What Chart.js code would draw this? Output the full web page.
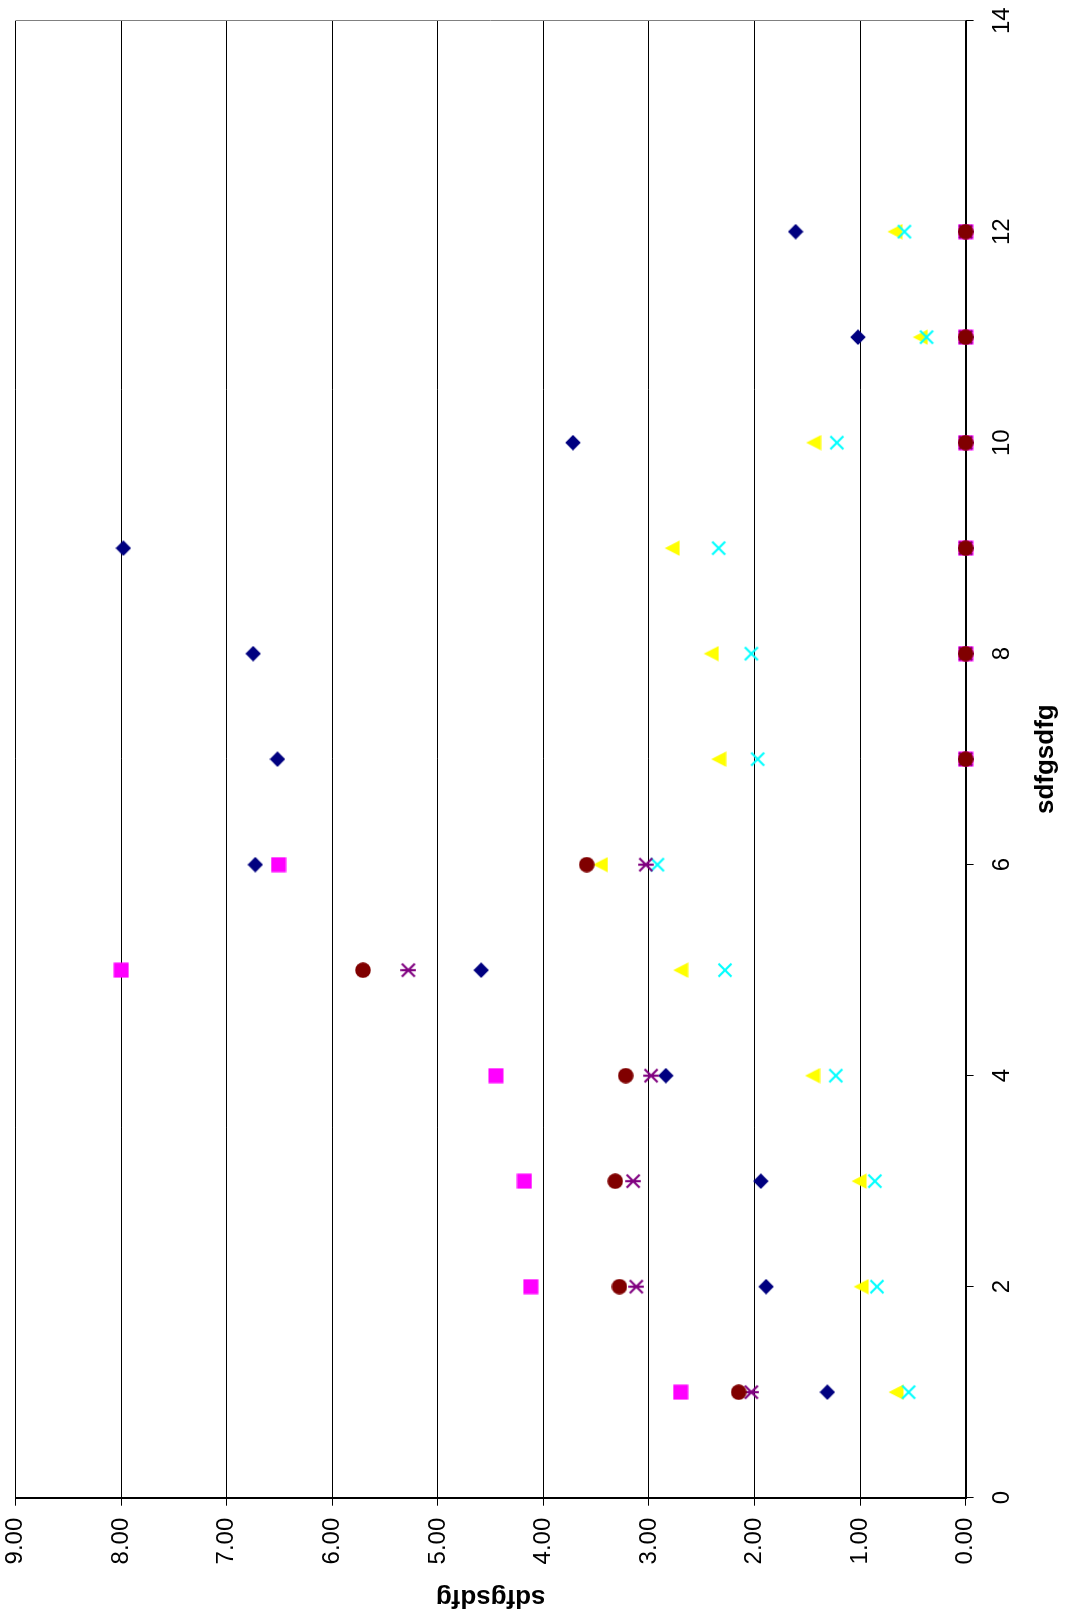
<!DOCTYPE html>
<html>
<head>
<meta charset="utf-8">
<script src="https://cdn.jsdelivr.net/npm/chart.js@4/dist/chart.umd.min.js"></script>
<style>
  html, body { margin: 0; padding: 0; background: #ffffff; overflow: hidden; }
  body { width: 1070px; height: 1616px; position: relative; }
  /* the chart is laid out landscape and turned a quarter turn counter-clockwise */
  #wrap {
    position: absolute; left: 0; top: 0;
    width: 1616px; height: 1070px;
    transform-origin: 0 0;
    transform: translateY(1616px) rotate(-90deg);
  }
  #chart { display: block; }
</style>
</head>
<body>
<div id="wrap"><canvas id="chart" width="1616" height="1070"></canvas></div>
<script>
// x positions shared by every series
const categories = [1, 2, 3, 4, 5, 6, 7, 8, 9, 10, 11, 12];

// series values (one per category)
const seriesDiamond  = [1.31, 1.89, 1.94, 2.84, 4.59, 6.73, 6.52, 6.75, 7.98, 3.72, 1.02, 1.61];
const seriesSquare   = [2.70, 4.12, 4.18, 4.45, 8.00, 6.51, 0, 0, 0, 0, 0, 0];
const seriesTriangle = [0.66, 0.99, 1.01, 1.45, 2.70, 3.46, 2.34, 2.41, 2.78, 1.44, 0.43, 0.67];
const seriesCross    = [0.54, 0.84, 0.86, 1.23, 2.28, 2.92, 1.97, 2.03, 2.34, 1.22, 0.37, 0.58];
const seriesStar     = [2.03, 3.12, 3.15, 2.98, 5.28, 3.03, 0, 0, 0, 0, 0, 0];
const seriesCircle   = [2.15, 3.28, 3.32, 3.22, 5.71, 3.59, 0, 0, 0, 0, 0, 0];

// axis settings
const xAxisTitle = 'sdfgsdfg';
const yAxisTitle = 'sdfgsdfg';
const xMin = 0, xMax = 14, xStep = 2;
const yMin = 0, yMax = 9, yStep = 1;

// small marker images
function makeMarker(kind, color) {
  const s = 16;
  const c = document.createElement('canvas');
  c.width = s; c.height = s;
  const g = c.getContext('2d');
  g.fillStyle = color;
  g.strokeStyle = color;
  const m = s / 2;
  if (kind === 'diamond') {
    g.beginPath();
    g.moveTo(m, 0.2); g.lineTo(s - 0.2, m); g.lineTo(m, s - 0.2); g.lineTo(0.2, m);
    g.closePath(); g.fill();
  } else if (kind === 'square') {
    g.fillRect(0.5, 0.5, s - 1, s - 1);
  } else if (kind === 'triangle') {
    g.beginPath();
    g.moveTo(m, 0.5); g.lineTo(s - 0.3, s - 0.5); g.lineTo(0.3, s - 0.5);
    g.closePath(); g.fill();
  } else if (kind === 'cross') {
    g.lineWidth = 2.2;
    g.beginPath();
    g.moveTo(1.5, 1.5); g.lineTo(s - 1.5, s - 1.5);
    g.moveTo(s - 1.5, 1.5); g.lineTo(1.5, s - 1.5);
    g.stroke();
  } else if (kind === 'star') {
    g.lineWidth = 2.2;
    g.beginPath();
    g.moveTo(1.5, 1.5); g.lineTo(s - 1.5, s - 1.5);
    g.moveTo(s - 1.5, 1.5); g.lineTo(1.5, s - 1.5);
    g.moveTo(m, 0.3); g.lineTo(m, s - 0.3);
    g.stroke();
  } else if (kind === 'circle') {
    g.beginPath();
    g.arc(m, m, 7.8, 0, Math.PI * 2);
    g.fill();
  }
  return c;
}

function points(values) {
  return categories.map((x, i) => ({ x: x, y: values[i] }));
}

// later series are painted over earlier ones
function series(label, values, kind, color, index) {
  return {
    label: label,
    data: points(values),
    showLine: false,
    pointStyle: makeMarker(kind, color),
    pointRadius: 8,
    pointHoverRadius: 8,
    backgroundColor: color,
    borderColor: color,
    borderWidth: 0,
    clip: false,
    order: 10 - index
  };
}

// grey edge of the plot area opposite the value axis
const plotEdge = {
  id: 'plotEdge',
  beforeDatasetsDraw(chart) {
    const a = chart.chartArea;
    const ctx = chart.ctx;
    ctx.save();
    ctx.strokeStyle = '#808080';
    ctx.lineWidth = 1;
    ctx.beginPath();
    ctx.moveTo(Math.round(a.right) + 0.5, a.top);
    ctx.lineTo(Math.round(a.right) + 0.5, a.bottom);
    ctx.stroke();
    ctx.restore();
  }
};

function noEdgePadding(scale) {
  scale.paddingTop = 0;
  scale.paddingBottom = 0;
  scale.paddingLeft = 0;
  scale.paddingRight = 0;
}

const tickFont = { family: "'Liberation Sans', Arial, Helvetica, sans-serif", size: 24 };
const titleFont = { family: "'Liberation Sans', Arial, Helvetica, sans-serif", size: 26, weight: 'bold' };

new Chart(document.getElementById('chart'), {
  type: 'scatter',
  data: {
    datasets: [
      series('Series1', seriesDiamond, 'diamond', '#000080', 1),
      series('Series2', seriesSquare, 'square', '#FF00FF', 2),
      series('Series3', seriesTriangle, 'triangle', '#FFFF00', 3),
      series('Series4', seriesCross, 'cross', '#00FFFF', 4),
      series('Series5', seriesStar, 'star', '#800080', 5),
      series('Series6', seriesCircle, 'circle', '#800000', 6)
    ]
  },
  options: {
    responsive: false,
    animation: false,
    devicePixelRatio: 1,
    layout: { padding: { top: 15.7, right: 20.7, left: 0, bottom: 0 } },
    plugins: {
      legend: { display: false },
      tooltip: { enabled: false }
    },
    scales: {
      x: {
        type: 'linear',
        position: 'bottom',
        min: xMin, max: xMax,
        afterFit(scale) { scale.height = 104.4; noEdgePadding(scale); },
        ticks: {
          stepSize: xStep,
          color: '#000000',
          font: tickFont,
          padding: 14,
          maxRotation: 0,
          callback: (v) => String(v)
        },
        grid: {
          drawOnChartArea: false,
          drawTicks: true,
          tickLength: 8,
          tickColor: '#000000',
          tickWidth: 1
        },
        border: { display: true, color: '#000000', width: 2 },
        title: {
          display: true,
          text: xAxisTitle,
          color: '#000000',
          font: titleFont,
          padding: { top: 0, bottom: 9 }
        }
      },
      y: {
        type: 'linear',
        position: 'left',
        min: yMin, max: yMax,
        afterFit(scale) { scale.width = 118.3; noEdgePadding(scale); },
        ticks: {
          stepSize: yStep,
          color: '#000000',
          font: tickFont,
          padding: 12,
          callback: (v) => Number(v).toFixed(2)
        },
        grid: {
          color: '#000000',
          lineWidth: 1,
          drawTicks: true,
          tickLength: 8,
          tickColor: '#000000'
        },
        border: { display: true, color: '#000000', width: 2 },
        title: {
          display: true,
          text: yAxisTitle,
          color: '#000000',
          font: titleFont,
          padding: { top: 3, bottom: 0 }
        }
      }
    }
  },
  plugins: [plotEdge]
});
</script>
</body>
</html>
